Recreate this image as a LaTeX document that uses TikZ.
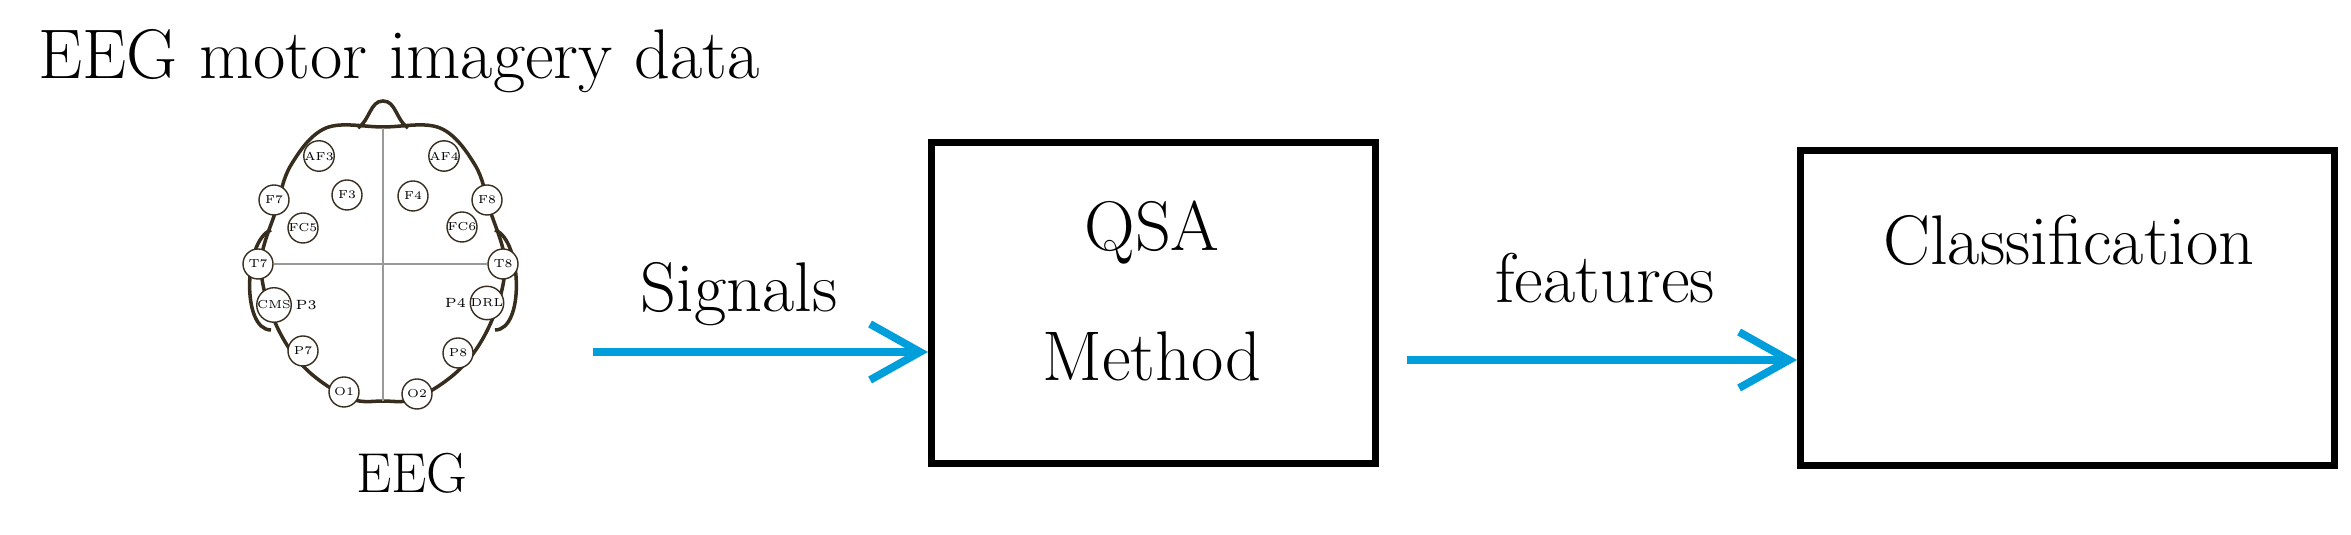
\documentclass[tikz,border=0pt]{standalone}
\usepackage{tikz}
\usetikzlibrary{positioning,arrows.meta}
\definecolor{arrowblue}{RGB}{0,158,218}
\definecolor{headbrown}{RGB}{55,45,30}
\tikzset{
  elec/.style={circle, draw=headbrown, fill=white, inner sep=0pt, minimum size=0.3cm, font=\fontsize{3.3}{4}\selectfont},
  block/.style={draw, line width=2pt},
  flow/.style={arrowblue, line width=2.2pt, -{Straight Barb[length=5mm,width=5.6mm]}},
  big/.style={font=\fontsize{20}{24}\selectfont}
}
\begin{document}
\begin{tikzpicture}
			\useasboundingbox (0,0) rectangle (23.51,5.35);
			% Title and head outline
			\node[big, anchor=base west, inner sep=0pt] (title) at (0.38,4.56) {EEG motor imagery data};
			\draw[headbrown, line width=1pt] plot[smooth cycle, tension=0.6] coordinates {
				(3.83,4.08) (4.40,4.07) (4.75,3.70) (4.90,3.25) (5.05,2.71) (4.92,2.15) (4.62,1.68) (4.17,1.37)
				(3.83,1.34) (3.49,1.37) (3.04,1.68) (2.74,2.15) (2.61,2.71) (2.76,3.25) (2.91,3.70) (3.26,4.07)};
			\draw[headbrown, line width=1pt] (3.58,4.07) .. controls (3.70,4.15) and (3.70,4.34) .. (3.83,4.34)
				.. controls (3.96,4.34) and (3.96,4.15) .. (4.08,4.07);
			\draw[headbrown, line width=1pt] (4.95,3.05) .. controls (5.22,2.95) and (5.25,2.05) .. (4.95,2.05);
			\draw[headbrown, line width=1pt] (2.71,3.05) .. controls (2.44,2.95) and (2.41,2.05) .. (2.71,2.05);
			\draw[gray!80] (3.83,4.07) -- (3.83,1.34);
			% Electrodes
			\foreach \name/\x/\y in {AF3/3.19/3.79, AF4/4.44/3.79, F7/2.74/3.35, F3/3.47/3.40, F4/4.13/3.39,
				F8/4.87/3.35, FC5/3.03/3.07, FC6/4.62/3.08, T7/2.58/2.71, T8/5.03/2.71, CMS/2.74/2.30,
				DRL/4.87/2.32, P7/3.03/1.84, P8/4.58/1.82, O1/3.44/1.43, O2/4.17/1.41} {
				\node[elec] (\name) at (\x,\y) {\name};
			}
			\draw[gray!80] (T7) -- (T8);
			\node[font=\fontsize{3.8}{4}\selectfont, inner sep=0pt, right=0.03cm of CMS] (p3) {P3};
			\node[font=\fontsize{3.8}{4}\selectfont, inner sep=0pt, left=0.03cm of DRL] (p4) {P4};
			\node[font=\fontsize{16}{19}\selectfont] (eeg) at (4.12,0.62) {EEG};
			% Blocks
			\node[block, minimum width=4.44cm, minimum height=3.21cm] (qsa) at (11.535,2.32) {};
			\node[big] (qsa1) at (11.52,3.02) {QSA};
			\node[big] (qsa2) at (11.52,1.79) {Method};
			\node[block, minimum width=5.34cm, minimum height=3.15cm] (cls) at (20.675,2.27) {};
			\node[big] (clsname) at (20.69,2.95) {Classification};
			\coordinate (sig) at (5.93,1.83);
			\draw[flow] (sig) -- (sig -| qsa.west);
			\node[big, anchor=base] (signals) at (7.39,2.23) {Signals};
			\coordinate (feat) at (14.07,1.75);
			\draw[flow] (feat) -- (feat -| cls.west);
			\node[big, anchor=base] (features) at (16.05,2.32) {features};
\end{tikzpicture}
\end{document}
